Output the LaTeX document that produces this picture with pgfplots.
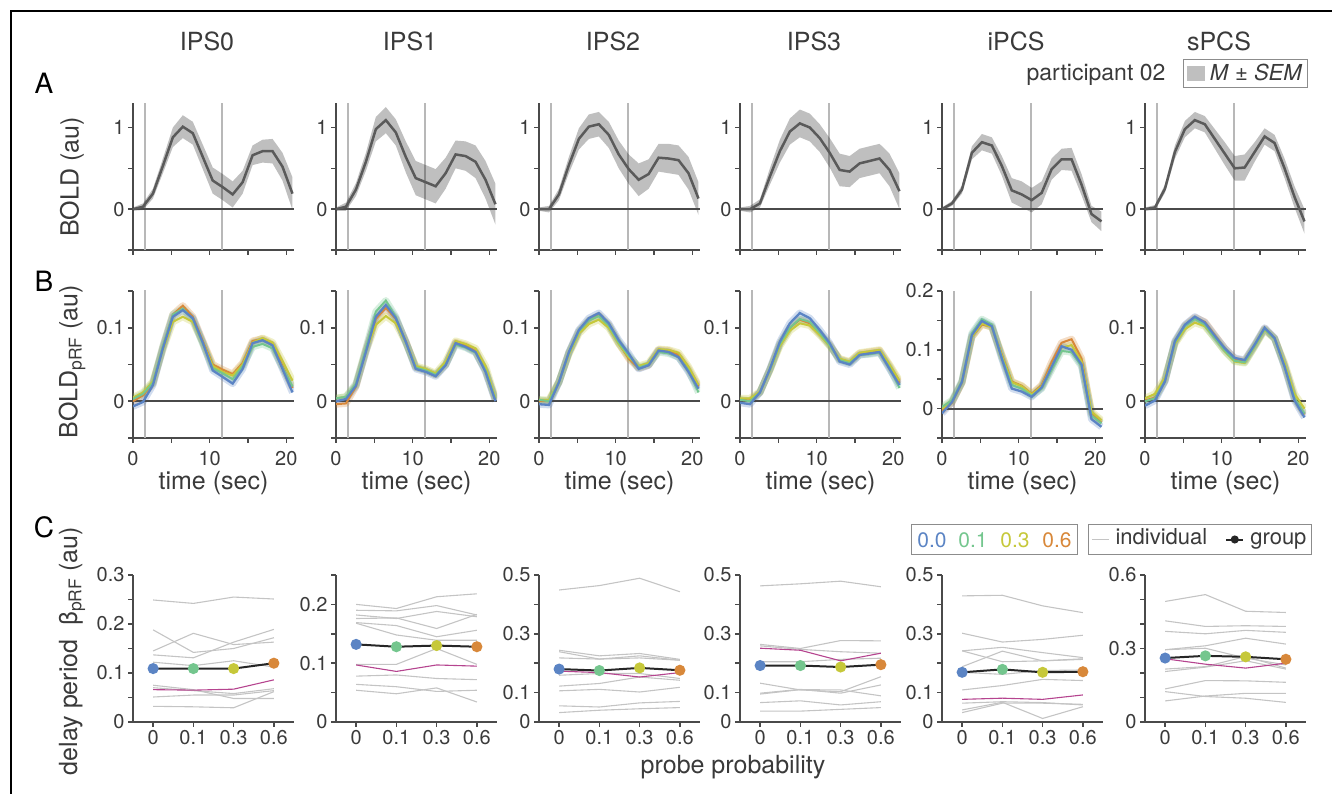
\documentclass[border=0pt]{standalone}
\usepackage{fontspec}
\setmainfont{TeX Gyre Heros}
\usepackage{pgfplots}
\pgfplotsset{compat=1.18}
\usepackage{pgfplotstable}

\definecolor{axiscol}{HTML}{4A4A4A}
\definecolor{textcol}{HTML}{3A3A3A}
\definecolor{vcol}{HTML}{B8B8B8}
\definecolor{meancol}{HTML}{5A5A5A}
\definecolor{cB}{HTML}{5B84C4}
\definecolor{cG}{HTML}{74C68E}
\definecolor{cY}{HTML}{C6C83A}
\definecolor{cO}{HTML}{D8883A}
\definecolor{cM}{HTML}{B5448F}
\definecolor{cI}{HTML}{C4C4C4}
\newcommand{\fs}[1]{\fontsize{#1}{#1}\selectfont}

% ---------------- Row A: BOLD (mean, SEM) ----------------
\pgfplotstableread{
t m0 s0 m1 s1 m2 s2 m3 s3 m4 s4 m5 s5
0 0 .02 0 .02 0 .02 0 .02 0 .02 0 .02
1.3 .03 .04 .03 .05 0 .04 0 .04 .07 .03 .02 .03
2.6 .19 .06 .24 .08 .18 .07 .07 .05 .24 .05 .25 .05
3.9 .53 .09 .58 .11 .54 .10 .40 .10 .69 .08 .70 .08
5.2 .88 .12 .98 .15 .86 .13 .71 .14 .82 .10 .98 .10
6.5 1.01 .14 1.09 .16 1.01 .15 .95 .16 .78 .10 1.09 .10
7.8 .93 .14 .94 .16 1.04 .15 1.05 .17 .53 .12 1.04 .10
9.1 .64 .15 .64 .19 .91 .16 1.00 .17 .23 .15 .86 .12
10.4 .35 .16 .38 .21 .67 .17 .87 .17 .18 .16 .68 .14
11.7 .27 .16 .33 .21 .49 .18 .69 .18 .11 .15 .50 .15
13 .18 .16 .28 .21 .36 .20 .48 .20 .20 .14 .51 .16
14.3 .33 .14 .44 .19 .43 .18 .46 .19 .49 .13 .70 .12
15.6 .66 .12 .67 .17 .63 .17 .56 .18 .61 .13 .89 .10
16.9 .71 .14 .65 .18 .62 .18 .59 .18 .61 .14 .81 .10
18.2 .71 .15 .58 .20 .60 .18 .62 .18 .30 .13 .50 .12
19.5 .52 .17 .36 .23 .44 .20 .48 .20 -.06 .10 .15 .13
20.8 .19 .20 .06 .25 .13 .20 .22 .22 -.15 .12 -.15 .15
}\tabA

% ---------------- Row B: BOLD pRF per probe probability ----------------
\pgfplotstableread{
t b g y o
0 -0.007 0.003 0.005 0.000
1.3 -0.001 0.010 0.012 0.008
2.6 0.022 0.025 0.027 0.024
3.9 0.072 0.075 0.070 0.074
5.2 0.115 0.118 0.108 0.118
6.5 0.124 0.126 0.115 0.130
7.8 0.113 0.112 0.108 0.115
9.1 0.080 0.078 0.080 0.082
10.4 0.042 0.045 0.048 0.050
11.7 0.033 0.038 0.040 0.043
13 0.024 0.030 0.035 0.037
14.3 0.044 0.048 0.050 0.052
15.6 0.079 0.074 0.080 0.082
16.9 0.083 0.078 0.086 0.085
18.2 0.076 0.072 0.080 0.077
19.5 0.044 0.046 0.055 0.048
20.8 0.012 0.020 0.028 0.018
}\tabBa
\pgfplotstableread{
t b g y o
0 0.000 0.004 0.004 -0.004
1.3 0.003 0.006 0.006 -0.003
2.6 0.021 0.024 0.022 0.020
3.9 0.067 0.072 0.068 0.070
5.2 0.115 0.122 0.104 0.112
6.5 0.131 0.137 0.116 0.127
7.8 0.113 0.115 0.106 0.112
9.1 0.081 0.080 0.080 0.082
10.4 0.044 0.046 0.048 0.046
11.7 0.040 0.042 0.044 0.042
13 0.034 0.036 0.038 0.036
14.3 0.049 0.050 0.054 0.050
15.6 0.079 0.077 0.082 0.080
16.9 0.074 0.073 0.078 0.076
18.2 0.067 0.066 0.072 0.068
19.5 0.040 0.042 0.048 0.042
20.8 0.000 0.002 0.004 0.002
}\tabBb
\pgfplotstableread{
t b g y o
0 -0.004 0.002 0.002 0.000
1.3 -0.005 0.000 0.002 0.000
2.6 0.026 0.026 0.027 0.026
3.9 0.067 0.066 0.064 0.066
5.2 0.097 0.095 0.092 0.095
6.5 0.113 0.110 0.105 0.110
7.8 0.120 0.116 0.111 0.117
9.1 0.106 0.103 0.100 0.104
10.4 0.083 0.080 0.078 0.079
11.7 0.065 0.062 0.060 0.058
13 0.044 0.046 0.048 0.045
14.3 0.049 0.050 0.052 0.049
15.6 0.069 0.067 0.071 0.070
16.9 0.067 0.065 0.070 0.069
18.2 0.060 0.060 0.066 0.063
19.5 0.040 0.042 0.047 0.044
20.8 0.017 0.012 0.022 0.020
}\tabBc
\pgfplotstableread{
t b g y o
0 -0.002 0.002 0.004 0.002
1.3 -0.004 0.000 0.004 0.001
2.6 0.012 0.012 0.013 0.012
3.9 0.044 0.043 0.042 0.043
5.2 0.081 0.078 0.075 0.078
6.5 0.106 0.100 0.096 0.100
7.8 0.120 0.112 0.106 0.111
9.1 0.113 0.108 0.103 0.106
10.4 0.097 0.093 0.090 0.092
11.7 0.079 0.076 0.075 0.077
13 0.054 0.056 0.058 0.057
14.3 0.050 0.052 0.054 0.053
15.6 0.063 0.063 0.066 0.065
16.9 0.065 0.064 0.068 0.067
18.2 0.067 0.066 0.070 0.069
19.5 0.044 0.046 0.050 0.048
20.8 0.022 0.018 0.028 0.025
}\tabBd
\pgfplotstableread{
t b g y o
0 -0.008 0.003 0.000 -0.004
1.3 0.011 0.014 0.012 0.010
2.6 0.045 0.047 0.044 0.044
3.9 0.125 0.128 0.122 0.122
5.2 0.149 0.152 0.145 0.143
6.5 0.140 0.143 0.138 0.139
7.8 0.085 0.087 0.090 0.092
9.1 0.034 0.040 0.045 0.046
10.4 0.029 0.034 0.038 0.039
11.7 0.020 0.022 0.024 0.025
13 0.036 0.034 0.038 0.040
14.3 0.071 0.066 0.072 0.079
15.6 0.106 0.098 0.104 0.112
16.9 0.100 0.096 0.108 0.118
18.2 0.075 0.072 0.080 0.085
19.5 -0.018 -0.012 -0.005 -0.008
20.8 -0.031 -0.025 -0.020 -0.024
}\tabBe
\pgfplotstableread{
t b g y o
0 -0.006 0.000 0.004 0.001
1.3 0.001 0.004 0.010 0.005
2.6 0.027 0.028 0.032 0.028
3.9 0.082 0.080 0.078 0.080
5.2 0.104 0.102 0.098 0.103
6.5 0.115 0.112 0.107 0.114
7.8 0.107 0.104 0.102 0.108
9.1 0.089 0.086 0.086 0.090
10.4 0.072 0.069 0.068 0.072
11.7 0.059 0.055 0.054 0.058
13 0.056 0.053 0.052 0.055
14.3 0.077 0.075 0.074 0.076
15.6 0.100 0.098 0.097 0.099
16.9 0.086 0.085 0.085 0.086
18.2 0.047 0.048 0.052 0.049
19.5 0.001 0.004 0.010 0.004
20.8 -0.022 -0.017 -0.010 -0.018
}\tabBf

% ---------------- Row C: delay period beta ----------------
\pgfplotstableread{
x c g1 g2 g3 g4 g5 g6 g7 g8 g9 m grp
0 c0 0.249 0.188 0.145 0.137 0.122 0.075 0.070 0.051 0.032 0.066 0.109
1 c1 0.242 0.142 0.181 0.131 0.115 0.066 0.064 0.055 0.031 0.065 0.109
2 c2 0.255 0.150 0.158 0.163 0.125 0.048 0.058 0.055 0.029 0.067 0.109
3 c3 0.251 0.172 0.163 0.189 0.112 0.048 0.068 0.064 0.062 0.086 0.120
}\tabCa
\pgfplotstableread{
x c g1 g2 g3 g4 g5 g6 g7 g8 g9 g10 m grp
0 c0 0.200 0.190 0.182 0.176 0.169 0.168 0.098 0.078 0.064 0.054 0.097 0.132
1 c1 0.193 0.189 0.176 0.177 0.164 0.148 0.098 0.080 0.060 0.048 0.086 0.128
2 c2 0.213 0.198 0.188 0.159 0.145 0.139 0.125 0.074 0.052 0.058 0.097 0.130
3 c3 0.218 0.182 0.179 0.183 0.156 0.139 0.098 0.072 0.054 0.034 0.095 0.128
}\tabCb
\pgfplotstableread{
x c g1 g2 g3 g4 g5 g6 g7 g8 g9 m grp
0 c0 0.449 0.244 0.239 0.218 0.159 0.122 0.106 0.055 0.032 0.173 0.180
1 c1 0.464 0.225 0.214 0.214 0.165 0.131 0.111 0.051 0.040 0.168 0.175
2 c2 0.489 0.233 0.225 0.218 0.165 0.153 0.102 0.065 0.045 0.153 0.184
3 c3 0.443 0.213 0.210 0.210 0.148 0.142 0.118 0.070 0.049 0.168 0.176
}\tabCc
\pgfplotstableread{
x c g1 g2 g3 g4 g5 g6 g7 g8 g9 m grp
0 c0 0.463 0.264 0.259 0.205 0.132 0.098 0.095 0.066 0.037 0.251 0.192
1 c1 0.470 0.250 0.247 0.205 0.109 0.111 0.110 0.072 0.037 0.244 0.192
2 c2 0.479 0.277 0.239 0.213 0.103 0.098 0.109 0.058 0.043 0.208 0.187
3 c3 0.460 0.276 0.234 0.217 0.154 0.126 0.089 0.069 0.049 0.234 0.195
}\tabCd
\pgfplotstableread{
x c g1 g2 g3 g4 g5 g6 g7 g8 g9 g10 m grp
0 c0 0.429 0.302 0.242 0.242 0.188 0.169 0.109 0.064 0.041 0.032 0.077 0.169
1 c1 0.431 0.272 0.254 0.205 0.241 0.162 0.124 0.069 0.067 0.064 0.081 0.179
2 c2 0.395 0.281 0.236 0.208 0.208 0.175 0.145 0.066 0.012 0.064 0.077 0.169
3 c3 0.372 0.295 0.219 0.213 0.215 0.177 0.141 0.058 0.052 0.060 0.092 0.171
}\tabCe
\pgfplotstableread{
x c g1 g2 g3 g4 g5 g6 g7 g8 g9 g10 m grp
0 c0 0.492 0.413 0.370 0.295 0.295 0.216 0.206 0.135 0.124 0.086 0.258 0.261
1 c1 0.520 0.390 0.360 0.311 0.301 0.226 0.224 0.169 0.104 0.106 0.236 0.270
2 c2 0.452 0.393 0.374 0.342 0.261 0.267 0.250 0.168 0.097 0.117 0.220 0.266
3 c3 0.447 0.390 0.366 0.318 0.233 0.220 0.216 0.162 0.080 0.117 0.240 0.256
}\tabCf

\pgfplotsset{
  base/.style={scale only axis, width=161pt, height=147pt, anchor=south west,
    axis lines*=left, axis line style={line width=2pt, draw=axiscol},
    tick align=outside, major tick length=5pt,
    tick style={line width=1.6pt, draw=axiscol},
    tick label style={font=\fs{20}, text=textcol}},
  timeaxis/.style={base, xmin=0, xmax=21, xtick={0,5,10,15,20}},
  rowA/.style={timeaxis, ymin=-0.5, ymax=1.3, ytick={-0.5,0,0.5,1},
    yticklabels={,0,,1}, xticklabels={,,,,}},
  rowB/.style={timeaxis, ymin=-0.05, ymax=0.15, ytick={-0.05,0,0.05,0.1,0.15},
    yticklabels={,0,,0.1,}, xticklabels={0,,10,,20},
    xticklabel style={yshift=-5pt},
    xlabel={time (sec)},
    xlabel style={font=\fs{25}, text=textcol, at={(axis description cs:0.5,-0.306)}, anchor=center}},
  rowC/.style={base, xmin=-0.5, xmax=3.5, xtick={0,1,2,3},
    xticklabels={0,0.1,0.3,0.6}, ymin=0},
  vline/.style={forget plot, line width=2pt, color=vcol},
  zeroline/.style={forget plot, line width=2pt, color=axiscol},
  meanA/.style={forget plot, line width=2.5pt, color=meancol},
  curve/.style={forget plot, line width=2pt, color=#1},
  bandline/.style={forget plot, line width=7pt, color=#1, draw opacity=0.28, line join=round},
  indiv/.style={forget plot, line width=1.1pt, color=cI},
  magline/.style={forget plot, line width=1.1pt, color=cM},
  grpline/.style={forget plot, line width=2pt, color=black!85, mark=*, mark size=4.5pt,
    scatter, scatter src=explicit symbolic,
    scatter/classes={c0={mark=*,draw=cB,fill=cB}, c1={mark=*,draw=cG,fill=cG},
      c2={mark=*,draw=cY,fill=cY}, c3={mark=*,draw=cO,fill=cO}}},
}

\newcommand{\panelA}[4]{%
\begin{axis}[rowA, at={(#1pt,544pt)}, #4]
\addplot[vline] coordinates {(1.6,-0.5) (1.6,1.3)};
\addplot[vline] coordinates {(11.6,-0.5) (11.6,1.3)};
\addplot[draw=none, stack plots=y, forget plot] table[x=t, y expr=\thisrow{#2}-\thisrow{#3}]{\tabA};
\addplot[draw=none, fill=black, fill opacity=0.25, stack plots=y, forget plot] table[x=t, y expr=2*\thisrow{#3}]{\tabA} \closedcycle;
\addplot[zeroline, stack plots=false] coordinates {(0,0) (21,0)};
\addplot[meanA, stack plots=false] table[x=t, y=#2]{\tabA};
\end{axis}}

\newcommand{\panelB}[3]{%
\begin{axis}[rowB, at={(#1pt,356pt)}, #3]
\addplot[vline] coordinates {(1.6,-0.05) (1.6,0.2)};
\addplot[vline] coordinates {(11.6,-0.05) (11.6,0.2)};
\addplot[bandline=cO] table[x=t,y=o]{#2};
\addplot[bandline=cY] table[x=t,y=y]{#2};
\addplot[bandline=cG] table[x=t,y=g]{#2};
\addplot[bandline=cB] table[x=t,y=b]{#2};
\addplot[zeroline] coordinates {(0,0) (21,0)};
\addplot[curve=cO] table[x=t,y=o]{#2};
\addplot[curve=cY] table[x=t,y=y]{#2};
\addplot[curve=cG] table[x=t,y=g]{#2};
\addplot[curve=cB, line width=2.3pt] table[x=t,y=b]{#2};
\end{axis}}

\newcommand{\panelC}[4]{%
\begin{axis}[rowC, at={(#1pt,72pt)}, #4]
\pgfplotsinvokeforeach{#3}{\addplot[indiv] table[x=x, y=g##1]{#2};}
\addplot[magline] table[x=x,y=m]{#2};
\addplot[grpline] table[x=x,y=grp,meta=c]{#2};
\end{axis}}

\begin{document}
\begin{tikzpicture}
\useasboundingbox (0pt,0pt) rectangle (1332pt,794pt);
\draw[line width=2.5pt, black] (11pt,0pt) -- (11pt,783pt) -- (1332pt,783pt);

% Row A
\panelA{133}{m0}{s0}{}
\panelA{336}{m1}{s1}{}
\panelA{539}{m2}{s2}{}
\panelA{740}{m3}{s3}{}
\panelA{942}{m4}{s4}{}
\panelA{1145}{m5}{s5}{}

% Row B
\panelB{133}{\tabBa}{}
\panelB{336}{\tabBb}{}
\panelB{539}{\tabBc}{}
\panelB{740}{\tabBd}{}
\panelB{942}{\tabBe}{ymax=0.2, ytick={-0.05,0,0.05,0.1,0.15,0.2}, yticklabels={,0,,0.1,,0.2}}
\panelB{1145}{\tabBf}{}

% Row C
\panelC{133}{\tabCa}{1,...,9}{ymax=0.3, ytick={0,0.05,...,0.3}, yticklabels={0,,0.1,,0.2,,0.3}}
\panelC{336}{\tabCb}{1,...,10}{ymax=0.25, ytick={0,0.05,...,0.25}, yticklabels={0,,0.1,,0.2,}}
\panelC{539}{\tabCc}{1,...,9}{ymax=0.5, ytick={0,0.1,...,0.5}, yticklabels={0,0.1,,0.3,,0.5}}
\panelC{740}{\tabCd}{1,...,9}{ymax=0.5, ytick={0,0.1,...,0.5}, yticklabels={0,0.1,,0.3,,0.5}}
\panelC{942}{\tabCe}{1,...,10}{ymax=0.5, ytick={0,0.1,...,0.5}, yticklabels={0,0.1,,0.3,,0.5}}
\panelC{1145}{\tabCf}{1,...,10}{ymax=0.6, ytick={0,0.1,...,0.6}, yticklabels={0,,,0.3,,,0.6}}

% Legends (drawn by pgfplots, in empty helper axes)
\begin{axis}[scale only axis, width=161pt, height=147pt, anchor=south west, at={(1145pt,544pt)},
  hide axis, xmin=0, xmax=1, ymin=0, ymax=1,
  legend style={at={(1.012,1.102)}, anchor=south east, draw=black!45, line width=1pt,
    font=\fs{22}, text=textcol, inner sep=3pt,
    /tikz/every odd column/.append style={column sep=3pt}}]
\addlegendimage{legend image code/.code={\fill[black!25] (0pt,-7pt) rectangle (17pt,7pt);}}
\addlegendentry{\textit{M} ± \textit{SEM}}
\end{axis}
\begin{axis}[scale only axis, width=161pt, height=147pt, anchor=south west, at={(1145pt,72pt)},
  hide axis, xmin=0, xmax=1, ymin=0, ymax=1,
  legend style={at={(1.037,1.136)}, anchor=south east, draw=black!45, line width=1pt,
    font=\fs{22}, text=textcol, legend columns=2, inner sep=3pt,
    nodes={text height=15pt, text depth=5pt},
    /tikz/every odd column/.append style={column sep=4pt},
    /tikz/every even column/.append style={column sep=16pt}}]
\addlegendimage{cI, line width=1.2pt}\addlegendentry{individual}
\addlegendimage{black!85, line width=2pt, mark=*, mark size=3pt}\addlegendentry{group}
\end{axis}

% Text
\begin{scope}[every node/.style={text=textcol}]
\node[font=\fs{25}] at (207pt,753pt) {IPS0};
\node[font=\fs{25}] at (410pt,753pt) {IPS1};
\node[font=\fs{25}] at (613pt,753pt) {IPS2};
\node[font=\fs{25}] at (814pt,753pt) {IPS3};
\node[font=\fs{25}] at (1016pt,753pt) {iPCS};
\node[font=\fs{25}] at (1219pt,753pt) {sPCS};
\node[font=\fs{28}, text=black] at (44pt,711pt) {A};
\node[font=\fs{28}, text=black] at (44pt,513pt) {B};
\node[font=\fs{28}, text=black] at (44pt,267pt) {C};
\node[font=\fs{25}, rotate=90] at (72pt,617pt) {BOLD (au)};
\node[font=\fs{25}, rotate=90] at (72pt,432pt) {BOLD\textsubscript{pRF} (au)};
\node[font=\fs{25}, rotate=90] at (72pt,143pt) {delay period\ \ β\textsubscript{pRF} (au)};
\node[font=\fs{25}] at (733pt,27pt) {probe probability};
\node[font=\fs{23}] at (1096pt,719pt) {participant 02};
\node[draw=black!45, line width=1pt, minimum width=166pt, minimum height=30pt, inner sep=0pt] at (994pt,254pt) {};
\node[font=\fs{21}, text=cB] at (932pt,254pt) {0.0};
\node[font=\fs{21}, text=cG] at (973pt,254pt) {0.1};
\node[font=\fs{21}, text=cY] at (1015pt,254pt) {0.3};
\node[font=\fs{21}, text=cO] at (1057pt,254pt) {0.6};
\end{scope}
\end{tikzpicture}
\end{document}
